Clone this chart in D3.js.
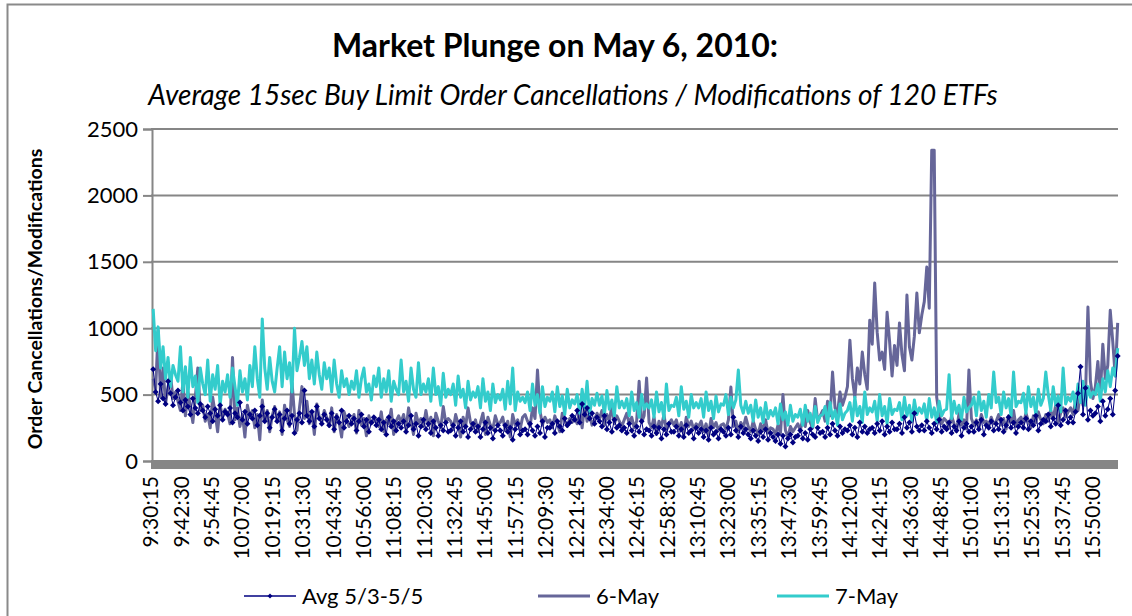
<!DOCTYPE html>
<html>
<head>
<meta charset="utf-8">
<script src="https://cdn.jsdelivr.net/npm/d3@7/dist/d3.min.js"></script>
<style>
  html, body { margin: 0; padding: 0; background: #fff; }
  svg { display: block; }
  text { font-family: Lato, "Open Sans", sans-serif; fill: #000; }
</style>
</head>
<body>
<svg id="chart" width="1132" height="616"></svg>
<script>
// 15-second intervals from 9:30:15 to 16:00:00
const intervalCount = 1560;
// every 49th interval is labelled on the category axis
const tickLabels = [
  "9:30:15","9:42:30","9:54:45","10:07:00","10:19:15","10:31:30","10:43:45","10:56:00",
  "11:08:15","11:20:30","11:32:45","11:45:00","11:57:15","12:09:30","12:21:45","12:34:00",
  "12:46:15","12:58:30","13:10:45","13:23:00","13:35:15","13:47:30","13:59:45","14:12:00",
  "14:24:15","14:36:30","14:48:45","15:01:00","15:13:15","15:25:30","15:37:45","15:50:00"
];
const tickStep = 49;
// series are sampled once a minute (every 4th interval), 9:31 ... 16:00
const sampleStep = 4;

const seriesNames = ["Avg 5/3-5/5", "6-May", "7-May"];

const avgMay3to5 = [
  690,520,450,580,470,430,600,510,420,480,
  530,440,380,460,410,350,470,400,360,430,
  380,330,410,360,300,390,340,420,310,370,
  350,400,290,360,330,440,310,370,280,350,
  320,380,270,340,410,300,360,250,330,390,
  300,350,230,320,380,280,340,210,310,360,
  290,530,340,300,370,260,410,320,280,350,
  310,270,360,240,330,290,380,250,300,340,
  280,320,230,300,350,260,310,220,290,330,
  270,310,240,290,200,330,260,300,230,280,
  250,300,220,270,340,240,280,190,260,310,
  240,280,210,300,250,190,270,230,290,220,
  230,270,190,250,300,220,260,180,240,280,
  220,260,180,240,290,210,250,170,230,270,
  230,190,270,220,250,160,240,280,200,230,
  240,200,280,230,190,260,210,300,180,250,
  250,280,210,300,260,230,320,270,290,340,
  310,380,290,430,350,400,320,360,280,330,
  300,260,340,240,290,220,310,250,270,230,
  250,210,280,230,190,260,220,300,200,240,
  230,190,260,210,250,170,240,200,280,220,
  220,260,190,240,180,270,210,230,170,250,
  210,240,180,230,160,250,200,220,170,240,
  220,190,250,200,330,230,180,260,210,240,
  200,170,230,190,150,220,180,240,160,210,
  180,150,200,130,190,110,170,200,140,180,
  190,230,170,210,160,240,200,180,250,210,
  220,180,250,200,280,230,190,260,210,240,
  230,270,200,250,180,290,220,260,210,240,
  250,210,280,230,300,200,260,220,290,240,
  240,280,210,330,250,290,220,360,260,230,
  270,230,300,250,210,280,240,310,220,260,
  240,290,210,260,230,300,190,250,280,220,
  260,220,290,240,310,200,270,250,300,230,
  280,240,310,220,270,330,250,290,210,260,
  290,250,320,240,300,270,340,230,280,310,
  300,350,260,320,280,420,270,310,380,290,
  330,290,370,510,710,350,550,310,380,340,
  360,410,300,450,340,390,470,350,530,790
];

const may6 = [
  620,540,980,480,700,430,560,650,470,520,
  450,380,600,340,520,410,290,480,700,380,
  420,300,350,250,480,360,220,420,330,390,
  360,280,780,310,400,260,350,180,420,330,
  380,250,350,160,460,300,380,220,340,410,
  300,370,200,420,310,260,590,350,230,400,
  560,320,450,280,370,200,430,330,290,380,
  330,260,400,220,350,290,180,370,310,260,
  300,350,210,380,270,320,190,340,280,300,
  320,260,370,220,310,280,390,200,300,340,
  290,350,240,400,300,200,360,280,320,260,
  380,270,330,190,360,300,250,410,290,320,
  300,240,350,280,180,330,260,400,290,250,
  310,220,290,360,200,330,270,240,340,280,
  290,330,230,300,180,350,270,310,240,330,
  350,300,260,400,320,685,380,270,330,290,
  310,250,340,280,220,360,300,260,320,290,
  330,280,380,250,420,300,350,270,310,360,
  320,380,270,350,300,420,280,340,300,260,
  310,360,280,330,250,300,600,290,340,625,
  290,250,330,200,300,260,350,230,280,310,
  270,310,230,290,200,330,260,300,240,280,
  260,300,220,280,190,320,250,290,230,270,
  280,240,310,557,260,300,220,290,250,330,
  260,220,300,240,200,280,230,310,210,250,
  240,200,270,210,500,230,180,260,220,250,
  280,230,320,260,380,290,250,470,300,340,
  380,300,450,340,670,400,360,520,420,480,
  560,910,620,480,700,580,820,650,540,1060,
  880,1340,970,760,820,690,1120,900,640,870,
  720,1040,800,680,1250,860,760,940,1265,965,
  1100,1200,1460,1150,2340,2340,480,350,280,320,
  300,250,340,280,220,360,270,310,240,685,
  320,270,310,240,350,290,300,260,330,280,
  300,350,270,320,240,340,290,380,260,310,
  330,280,360,300,250,340,290,370,310,280,
  350,300,380,320,420,290,360,400,330,370,
  400,350,450,380,520,420,480,1160,600,470,
  560,750,500,880,620,720,1135,900,640,1040
];

const may7 = [
  1145,830,1010,700,860,620,780,560,720,650,
  600,860,520,710,480,780,560,640,440,700,
  580,500,760,450,650,540,720,420,600,520,
  650,480,700,560,420,680,520,620,460,720,
  560,860,620,480,1070,700,540,780,600,520,
  700,860,560,820,620,740,520,1000,680,780,
  900,720,860,620,760,580,820,650,540,740,
  620,700,520,760,580,480,680,560,620,500,
  600,540,680,480,620,700,520,580,460,640,
  560,700,480,620,520,680,450,600,540,500,
  760,520,600,450,700,540,480,740,500,580,
  520,620,450,700,500,560,420,660,480,540,
  500,580,420,640,480,540,400,600,460,520,
  480,560,400,620,450,520,380,580,440,500,
  460,540,390,600,430,700,380,520,450,480,
  440,520,380,580,420,500,360,560,410,480,
  450,520,370,560,410,490,350,540,400,460,
  430,500,360,540,400,600,350,470,420,510,
  420,490,350,530,390,460,340,560,400,450,
  400,470,340,520,380,440,330,500,390,430,
  400,460,330,520,370,440,320,580,380,420,
  410,480,340,560,390,450,330,500,400,440,
  400,470,330,520,380,450,320,490,370,430,
  420,500,350,480,400,460,685,420,360,450,
  360,420,300,460,330,400,290,440,320,380,
  340,400,280,430,310,370,270,420,300,350,
  330,390,270,420,300,360,260,410,290,340,
  350,410,280,440,320,380,270,430,310,360,
  380,440,300,480,340,410,290,520,350,400,
  370,450,300,500,340,410,280,470,350,390,
  380,440,310,480,340,420,300,460,350,400,
  360,430,300,470,330,400,290,450,340,380,
  390,650,320,450,360,420,310,480,370,400,
  420,480,340,520,380,450,330,500,400,670,
  440,480,350,520,400,470,340,670,410,450,
  440,510,360,560,410,480,350,540,420,470,
  670,500,380,560,420,490,370,700,430,480,
  450,520,400,580,440,600,420,560,480,520,
  500,580,450,620,520,680,560,700,640,850
];

const yTicks = [0, 500, 1000, 1500, 2000, 2500];

const colors = {
  avg: "#000080",
  may6: "#666699",
  may7: "#33CCCC",
  grid: "#868686"
};

const svg = d3.select("#chart");
const W = 1132, H = 616;
const plot = { left: 151, right: 1118, top: 129, bottom: 461 };

// outer chart frame
svg.append("rect")
  .attr("x", 7.5).attr("y", 4.5)
  .attr("width", W + 20).attr("height", H + 20)
  .attr("fill", "#fff").attr("stroke", "#8a8a8a").attr("stroke-width", 2);

const x = d3.scaleLinear().domain([0, intervalCount]).range([plot.left, plot.right]);
const y = d3.scaleLinear().domain([0, 2500]).range([plot.bottom, plot.top]);

// sample i lives in interval (i+1)*sampleStep - 1; draw it at the category centre
const xAt = i => x((i + 1) * sampleStep - 1 + 0.5);

// titles
svg.append("text")
  .attr("x", 555).attr("y", 57)
  .attr("text-anchor", "middle")
  .style("font-size", "32px").style("font-weight", "bold")
  .text("Market Plunge on May 6, 2010:");

svg.append("text")
  .attr("x", 573).attr("y", 105)
  .attr("text-anchor", "middle")
  .style("font-size", "28px").style("font-style", "italic")
  .text("Average 15sec Buy Limit Order Cancellations / Modifications of 120 ETFs");

// y axis title
svg.append("text")
  .attr("transform", "translate(42,299) rotate(-90)")
  .attr("text-anchor", "middle")
  .style("font-size", "19.5px").style("font-weight", "bold")
  .text("Order Cancellations/Modifications");

// gridlines
svg.append("g")
  .selectAll("line")
  .data(yTicks.filter(v => v > 0))
  .join("line")
  .attr("x1", plot.left).attr("x2", plot.right)
  .attr("y1", d => y(d)).attr("y2", d => y(d))
  .attr("stroke", colors.grid).attr("stroke-width", 2);

// y axis
const yAxis = d3.axisLeft(y).tickValues(yTicks).tickSize(9).tickPadding(5).tickFormat(d3.format("d"));
const gy = svg.append("g").attr("transform", `translate(${plot.left + 1},0)`).call(yAxis);
gy.select(".domain").attr("stroke", colors.grid).attr("stroke-width", 2);
gy.selectAll(".tick line").attr("stroke", colors.grid).attr("stroke-width", 2);
gy.selectAll(".tick text").style("font-size", "22px").style("font-family", "Lato, sans-serif").attr("fill", "#000");

// dense category tick band along the baseline
svg.append("rect")
  .attr("x", x(0)).attr("y", plot.bottom - 1)
  .attr("width", x(intervalCount) - x(0)).attr("height", 9)
  .attr("fill", colors.grid);

// category labels
svg.append("g")
  .selectAll("text")
  .data(tickLabels)
  .join("text")
  .attr("transform", (d, j) => `translate(${x(j * tickStep + 0.5) + 7},476) rotate(-90)`)
  .attr("text-anchor", "end")
  .style("font-size", "21px")
  .text(d => d);

// series lines
const line = d3.line().x((d, i) => xAt(i)).y(d => y(d));

svg.append("path").datum(may6)
  .attr("d", line).attr("fill", "none")
  .attr("stroke", colors.may6).attr("stroke-width", 3).attr("stroke-linejoin", "round");

svg.append("path").datum(may7)
  .attr("d", line).attr("fill", "none")
  .attr("stroke", colors.may7).attr("stroke-width", 3).attr("stroke-linejoin", "round");

svg.append("path").datum(avgMay3to5)
  .attr("d", line).attr("fill", "none")
  .attr("stroke", colors.avg).attr("stroke-width", 1);

const diamond = "M0,-3L3,0L0,3L-3,0Z";
svg.append("g")
  .selectAll("path")
  .data(avgMay3to5)
  .join("path")
  .attr("transform", (d, i) => `translate(${xAt(i)},${y(d)})`)
  .attr("d", diamond)
  .attr("fill", colors.avg);

// legend
const legend = [
  { name: seriesNames[0], color: colors.avg, x: 244, width: 1.5, marker: true },
  { name: seriesNames[1], color: colors.may6, x: 538, width: 3, marker: false },
  { name: seriesNames[2], color: colors.may7, x: 777, width: 3, marker: false }
];
const lg = svg.append("g").selectAll("g").data(legend).join("g")
  .attr("transform", d => `translate(${d.x},596)`);
lg.append("line").attr("x1", 0).attr("x2", 52).attr("y1", 0).attr("y2", 0)
  .attr("stroke", d => d.color).attr("stroke-width", d => d.width);
lg.filter(d => d.marker).append("path").attr("d", "M0,-2.5L2.5,0L0,2.5L-2.5,0Z")
  .attr("transform", "translate(26,0)").attr("fill", d => d.color);
lg.append("text").attr("x", 58).attr("y", 8)
  .style("font-size", "22px").text(d => d.name);
</script>
</body>
</html>
